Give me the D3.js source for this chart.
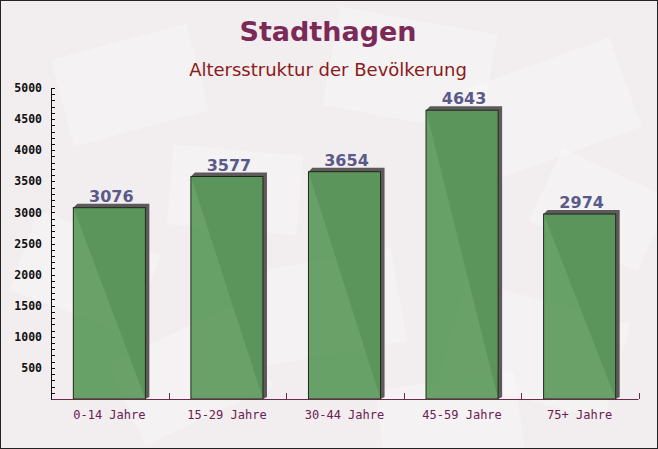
<!DOCTYPE html>
<html><head><meta charset="utf-8">
<script src="https://cdn.jsdelivr.net/npm/d3@7"></script>
<style>body{margin:0;}svg{display:block;}</style>
</head><body>
<script>
const categories = ["0-14 Jahre","15-29 Jahre","30-44 Jahre","45-59 Jahre","75+ Jahre"];
const values = [3076, 3577, 3654, 4643, 2974];
const yTicks = [500,1000,1500,2000,2500,3000,3500,4000,4500,5000];
const title = "Stadthagen";
const subtitle = "Altersstruktur der Bevölkerung";

const W = 658, H = 449;
const svg = d3.select("body").append("svg").attr("width", W).attr("height", H);

// background
svg.append("rect").attr("width", W).attr("height", H).attr("fill", "#f2edef");
const deco = [[60,40,140,90,-15],[330,20,160,100,10],[480,60,150,95,-20],[20,230,130,85,20],[250,260,150,95,-10],[450,300,170,100,15],[120,330,140,90,-25],[540,170,120,80,25],[170,150,130,80,5],[380,380,140,80,-8]];
svg.append("g").selectAll("rect").data(deco).join("rect")
  .attr("x", d=>d[0]).attr("y", d=>d[1]).attr("width", d=>d[2]).attr("height", d=>d[3])
  .attr("transform", d=>`rotate(${d[4]},${d[0]+d[2]/2},${d[1]+d[3]/2})`)
  .attr("fill", "#fbf9f9").attr("opacity", 0.4);

const x = d3.scaleBand().domain(categories).range([51, 638]).paddingInner(0.387).paddingOuter(0.19);
const y = d3.scaleLinear().domain([0, 5000]).range([399, 88]);

// titles
svg.append("text").attr("x", 328).attr("y", 41).attr("text-anchor","middle")
  .attr("font-family","DejaVu Sans, Verdana, sans-serif").attr("font-weight","bold")
  .attr("font-size", 27).attr("fill","#7b2a58").text(title);
svg.append("text").attr("x", 328).attr("y", 76).attr("text-anchor","middle")
  .attr("font-family","DejaVu Sans, Verdana, sans-serif")
  .attr("font-size", 18).attr("fill","#8b1a1a").text(subtitle);

// bars with shadow
const g = svg.append("g");
const bw = x.bandwidth();
g.selectAll("path.shadow").data(values).join("path").attr("class","shadow")
  .attr("d", (d,i)=>{
    const x0 = x(categories[i]), x1 = x0 + bw, t = y(d), b = y(0);
    return `M${x0},${t} L${x0+4},${t-4} L${x1+4},${t-4} L${x1+4},${b-2} L${x1},${b} Z`;
  }).attr("fill","#5e5a5c");
g.selectAll("rect.bar").data(values).join("rect").attr("class","bar")
  .attr("x",(d,i)=>x(categories[i])).attr("y", d=>y(d))
  .attr("width", bw).attr("height", d=>y(0)-y(d))
  .attr("fill","#5c9a5c").attr("fill-opacity",0.92)
  .attr("stroke","#1e2a1e").attr("stroke-width",1);

// value labels
g.selectAll("text.val").data(values).join("text").attr("class","val")
  .attr("x",(d,i)=>x(categories[i])+bw/2+2).attr("y", d=>y(d)-6)
  .attr("text-anchor","middle")
  .attr("font-family","DejaVu Sans, Verdana, sans-serif").attr("font-weight","bold")
  .attr("font-size", 16).attr("fill","#5a5a8a").text(d=>d);

// y axis
const yAxis = d3.axisLeft(y).tickValues(yTicks).tickFormat(d3.format("d")).tickSize(0).tickPadding(9);
const ya = svg.append("g").attr("transform","translate(51,0)").call(yAxis);
ya.select(".domain").attr("stroke","#111");
ya.selectAll("text").attr("font-family","DejaVu Sans Mono, monospace").attr("font-weight","bold")
  .attr("font-size",11.5).attr("fill","#111");
// minor ticks (inside)
const minor = d3.range(0, 5001, 100);
svg.append("g").selectAll("line").data(minor).join("line")
  .attr("x1",51).attr("x2",55).attr("y1",d=>Math.round(y(d))+0.5).attr("y2",d=>Math.round(y(d))+0.5)
  .attr("stroke","#111").attr("stroke-width",1);

// x axis
const xa = svg.append("g").attr("transform","translate(0,399)")
  .call(d3.axisBottom(x).tickSize(0).tickPadding(11));
xa.select(".domain").attr("stroke","#6b2a4a");
xa.selectAll("text").attr("font-family","DejaVu Sans Mono, monospace")
  .attr("font-size",12).attr("fill","#6b2050");
// separators between categories
const seps = categories.map((c,i)=> 51 + (i+1)*x.step());
svg.append("g").selectAll("line").data(seps).join("line")
  .attr("x1",d=>Math.round(d)+0.5).attr("x2",d=>Math.round(d)+0.5).attr("y1",399).attr("y2",393)
  .attr("stroke","#6b2a4a");

// border
svg.append("rect").attr("x",0.5).attr("y",0.5).attr("width",W-1).attr("height",H-1)
  .attr("fill","none").attr("stroke","#222");
</script>
</body></html>
